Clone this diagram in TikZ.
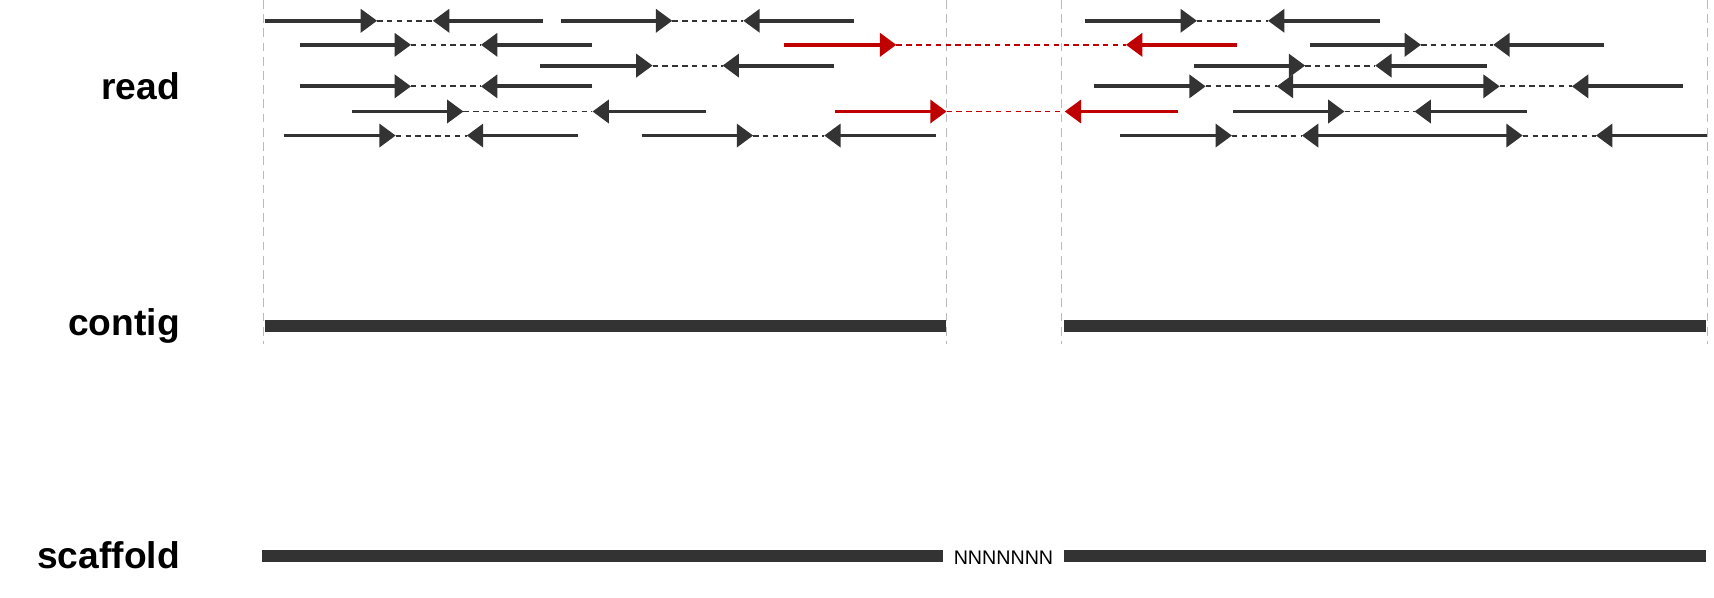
\documentclass[tikz,border=0pt]{standalone}
\usepackage{fontspec}
\setmainfont{Liberation Sans}
\usetikzlibrary{arrows.meta}
\definecolor{dk}{HTML}{333333}
\definecolor{rd}{HTML}{C00000}
\definecolor{gl}{HTML}{BBBBBB}
\tikzset{
  rd arrow/.style={line width=3.5pt,-{Triangle[length=15pt,width=21pt]}},
  gapline/.style={line width=1.8pt,dash pattern=on 5pt off 4pt},
  guide/.style={gl,line width=1.3pt,dash pattern=on 8pt off 5pt},
  bar/.style={dk,line width=11pt},
  lbl/.style={font=\fontsize{34}{40}\selectfont\bfseries,anchor=east}
}
\newcommand{\rp}[6][dk]{%
  \draw[#1,rd arrow] (#3,#2) -- (#4,#2);
  \draw[#1,gapline] (#4,#2) -- (#5,#2);
  \draw[#1,rd arrow] (#6,#2) -- (#5,#2);}
\begin{document}
\begin{tikzpicture}[x=1pt,y=-1pt]
\useasboundingbox (0,0) rectangle (1568,547);
\foreach \x in {241,866,971,1562} \draw[guide] (\x,0) -- (\x,315);
\node[lbl] (r) at (168,79) {read};
\node[lbl] (c) at (168,298) {contig};
\node[lbl] (s) at (168,508) {scaffold};
\rp{19}{242}{345}{396}{497}\rp{19}{513}{615}{680}{781}\rp{19}{993}{1095}{1160}{1262}
\rp{41}{274}{376}{440}{542}\rp[rd]{41}{717}{820}{1030}{1132}\rp{41}{1198}{1300}{1366}{1467}
\rp{60}{494}{597}{661}{763}\rp{60}{1092}{1194}{1258}{1360}
\rp{79}{274}{376}{440}{542}\rp{79}{1001}{1103}{1168}{1270}\rp{79}{1270}{1372}{1438}{1540}
\rp{102}{322}{424}{542}{646}\rp[rd]{102}{764}{866}{974}{1078}\rp{102}{1128}{1230}{1294}{1397}
\rp{124}{260}{362}{427}{529}\rp{124}{587}{689}{754}{856}\rp{124}{1025}{1127}{1191}{1295}\rp{124}{1291}{1393}{1460}{1562}
\draw[bar] (242,298) -- (865,298);
\draw[bar] (973,298) -- (1561,298);
\draw[bar] (240,509) -- (863,509);
\draw[bar] (973,509) -- (1561,509);
\node[font=\fontsize{18}{20}\selectfont] (n) at (918,510) {NNNNNNN};
\end{tikzpicture}
\end{document}
